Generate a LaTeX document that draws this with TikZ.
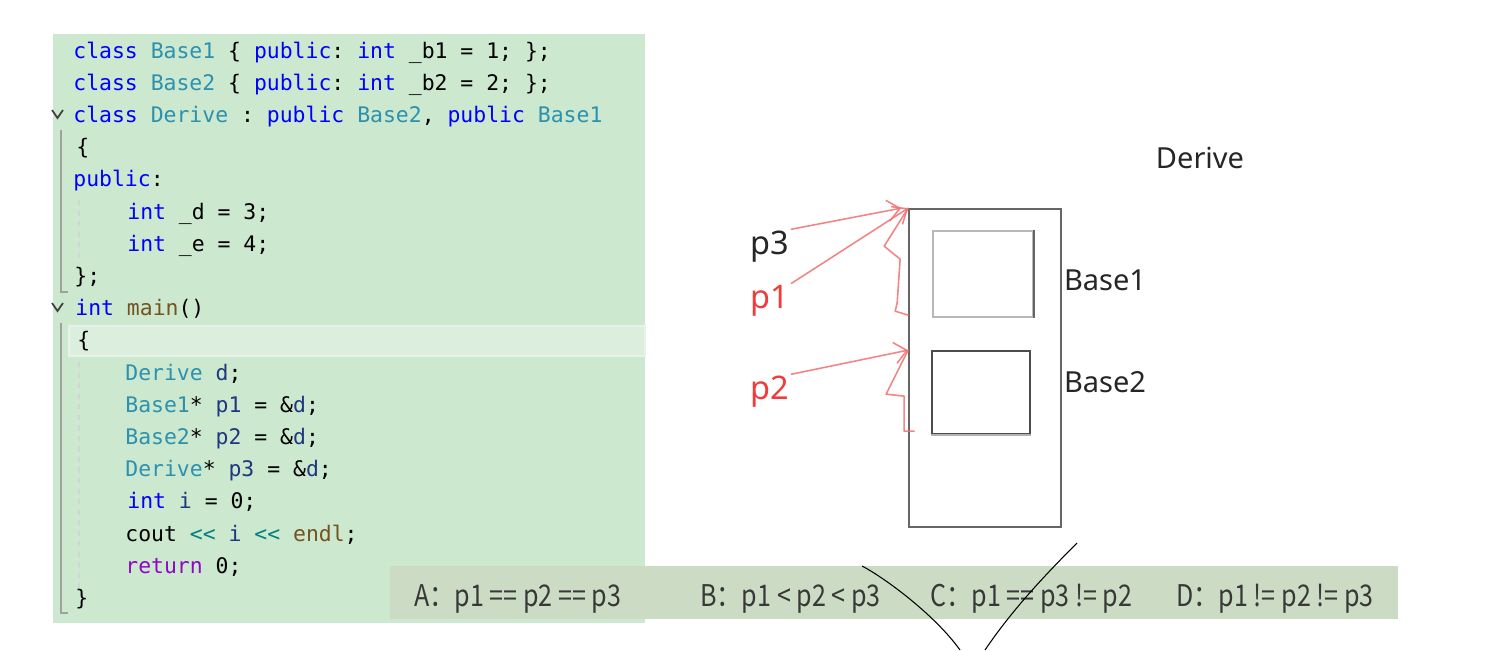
\documentclass[tikz,border=0pt]{standalone}
\usepackage{fontspec}
\setmainfont{Noto Sans}
\setmonofont{DejaVu Sans Mono}
\newfontfamily\ansfont[FakeStretch=0.84]{Noto Sans CJK SC}
\usetikzlibrary{arrows.meta}
\definecolor{codebg}{HTML}{CCE8CF}
\definecolor{curline}{HTML}{DCEEDE}
\definecolor{curedge}{HTML}{E8F2E9}
\definecolor{ansbg}{HTML}{CCDCC4}
\definecolor{kwblue}{HTML}{0000FF}
\definecolor{tyteal}{HTML}{2B91AF}
\definecolor{fnbrown}{HTML}{74531F}
\definecolor{vanavy}{HTML}{1F377F}
\definecolor{rtpurple}{HTML}{8F08C4}
\definecolor{opteal}{HTML}{008080}
\definecolor{pen}{HTML}{F27070}
\definecolor{labred}{HTML}{F03C3C}
\definecolor{guide}{HTML}{A0A0A0}
\newcommand{\kw}[1]{\textcolor{kwblue}{#1}}
\newcommand{\ty}[1]{\textcolor{tyteal}{#1}}
\newcommand{\fn}[1]{\textcolor{fnbrown}{#1}}
\newcommand{\va}[1]{\textcolor{vanavy}{#1}}
\newcommand{\rt}[1]{\textcolor{rtpurple}{#1}}
\newcommand{\op}[1]{\textcolor{opteal}{#1}}

\begin{document}
\begin{tikzpicture}[
  x=0.02cm, y=-0.02cm,
  code/.style={anchor=base west, inner sep=0pt, font=\ttfamily\fontsize{12.2}{14}\selectfont},
  lab/.style={inner sep=1pt, font=\fontsize{16.5}{18}\selectfont, text=black!85},
  plab/.style={inner sep=1pt, font=\fontsize{18.5}{20}\selectfont},
  ans/.style={anchor=base west, inner sep=0pt, font=\ansfont\fontsize{17}{20}\selectfont, text=black!78},
  penline/.style={draw=pen, line width=0.9pt, line join=round, line cap=round, opacity=0.85},
  arrowpen/.style={penline, -{Straight Barb[length=7pt,width=12pt]}}
]
\useasboundingbox (0,0) rectangle (1501,650);
\fill[white] (0,0) rectangle (1501,650);

\fill[codebg] (53,34) rectangle (645,623);
\filldraw[fill=curline, draw=curedge, line width=1.2pt] (69,326) rectangle (645,356);

\draw[guide, line width=1pt] (61,130) -- (61,292) -- (68,292);
\draw[guide, line width=1pt] (61,323) -- (61,613) -- (68,613);
\draw[guide!45, dashed, line width=0.8pt] (79,200) -- (79,262);
\draw[guide!45, dashed, line width=0.8pt] (79,362) -- (79,592);
\draw[black!75, line width=1pt] (52,110) -- (57.5,118) -- (63,110);
\draw[black!75, line width=1pt] (52,303) -- (57.5,311) -- (63,303);

\node[code] (l1) at (73,58) {\kw{class} \ty{Base1} \{ \kw{public}: \kw{int} \_b1 = 1; \};};
\node[code] (l2) at (73,90.2) {\kw{class} \ty{Base2} \{ \kw{public}: \kw{int} \_b2 = 2; \};};
\node[code] (l3) at (73,122.4) {\kw{class} \ty{Derive} : \kw{public} \ty{Base2}, \kw{public} \ty{Base1}};
\node[code] (l4) at (76,154.6) {\{};
\node[code] (l5) at (73,186.8) {\kw{public}:};
\node[code] (l6) at (127,219) {\kw{int} \_d = 3;};
\node[code] (l7) at (127,251.2) {\kw{int} \_e = 4;};
\node[code] (l8) at (74,283.4) {\};};
\node[code] (l9) at (75,315.6) {\kw{int} \fn{main}()};
\node[code] (l10) at (77,347.8) {\{};
\node[code] (l11) at (125,380) {\ty{Derive} \va{d};};
\node[code] (l12) at (125,412.2) {\ty{Base1}* \va{p1} = \&\va{d};};
\node[code] (l13) at (125,444.4) {\ty{Base2}* \va{p2} = \&\va{d};};
\node[code] (l14) at (125,476.6) {\ty{Derive}* \va{p3} = \&\va{d};};
\node[code] (l15) at (127,508.8) {\kw{int} \va{i} = 0;};
\node[code] (l16) at (125,541) {cout \op{<<} \va{i} \op{<<} \fn{endl};};
\node[code] (l17) at (125,573.2) {\rt{return} 0;};
\node[code] (l18) at (75,605.4) {\}};

\fill[ansbg] (390,566) rectangle (1398,619);
\node[ans] (ansA) at (414,606) {A：p1 == p2 == p3};
\node[ans] (ansB) at (700,606) {B：p1 < p2 < p3};
\node[ans] (ansC) at (930,606) {C：p1 == p3 != p2};
\node[ans] (ansD) at (1176,606) {D：p1 != p2 != p3};

\node[draw=black!60, line width=1pt, minimum width=3.04cm, minimum height=6.36cm, inner sep=0pt] (derive) at (985,368) {};
\node[draw=black!28, line width=1pt, minimum width=2cm, minimum height=1.72cm, inner sep=0pt] (base1) at (983,274) {};
\draw[black!60, line width=1pt] (base1.north east) -- (base1.south east);
\node[draw=black!70, line width=1pt, minimum width=1.96cm, minimum height=1.66cm, inner sep=0pt] (base2) at (981,392.5) {};
\draw[black!30, line width=1pt] (base2.south west) -- (base2.south east);

\node[lab] (tderive) at (1200,158) {Derive};
\node[lab, anchor=west] (tbase1) at (1062,280) {Base1};
\node[lab, anchor=west] (tbase2) at (1062,382) {Base2};

\node[plab, text=black!85] (p3) at (770,247) {p3};
\node[plab, text=labred] (p1) at (770,301) {p1};
\node[plab, text=labred] (p2) at (770,392) {p2};

\draw[arrowpen] (p3.north east) -- ([xshift=-4pt]derive.north west);
\draw[arrowpen] (p1.north east) -- (derive.north west);
\draw[arrowpen] (p2.north east) -- (derive.west |- base2.north);
\draw[penline] (derive.north west) -- ++(-24,38) -- ++(16,13) -- ++(-3,44) -- ++(-2,8) -- ++(13,4);
\draw[penline] (derive.west |- base2.north) -- ++(-22,44) -- ++(18,2) -- ++(0,35) -- ++(10,0);

\draw[black, line width=0.6pt] (862,566) .. controls (885,578) and (935,615) .. (960,650);
\draw[black, line width=0.6pt] (985,650) .. controls (1012,610) and (1045,575) .. (1077,543);
\end{tikzpicture}
\end{document}
